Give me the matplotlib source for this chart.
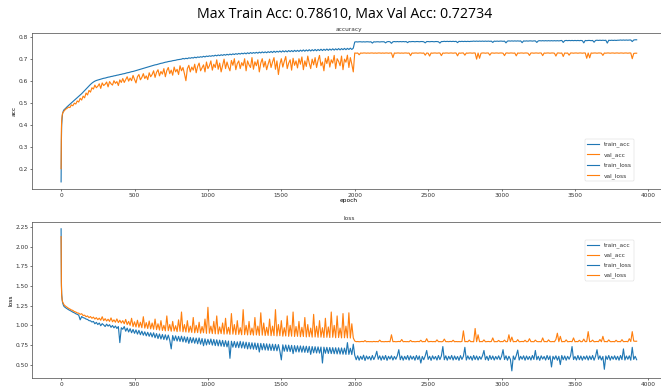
import numpy as np
import matplotlib
matplotlib.use("Agg")
import matplotlib.pyplot as plt
from matplotlib.lines import Line2D

# ---- data ----
epochs_early = [0, 2, 4, 7, 10, 15]
epochs_mid = list(range(20, 2000, 10))      # 20 .. 1990  (198 values)
epochs_late = list(range(2000, 3921, 10))   # 2000 .. 3920 (193 values)
epochs = epochs_early + epochs_mid + epochs_late

train_acc_early = [0.14, 0.33, 0.40, 0.43, 0.45, 0.462]
train_acc_mid = [
    0.468, 0.474, 0.481, 0.487, 0.493, 0.499, 0.505, 0.511, 0.517, 0.523, 0.529, 0.535, 0.541, 0.548, 0.555, 0.562, 0.569, 0.576, 0.583, 0.589,
    0.594, 0.598, 0.601, 0.603, 0.605, 0.607, 0.609, 0.611, 0.612, 0.614, 0.616, 0.617, 0.619, 0.620, 0.622, 0.623, 0.625, 0.626, 0.628, 0.629,
    0.631, 0.632, 0.634, 0.636, 0.637, 0.639, 0.641, 0.642, 0.644, 0.646, 0.648, 0.650, 0.652, 0.654, 0.656, 0.658, 0.660, 0.662, 0.664, 0.666,
    0.668, 0.670, 0.672, 0.673, 0.675, 0.677, 0.679, 0.680, 0.682, 0.684, 0.685, 0.687, 0.688, 0.689, 0.691, 0.692, 0.693, 0.695, 0.696, 0.697,
    0.698, 0.701, 0.699, 0.702, 0.700, 0.704, 0.702, 0.705, 0.703, 0.707, 0.704, 0.708, 0.706, 0.709, 0.707, 0.711, 0.708, 0.712, 0.710, 0.713,
    0.711, 0.714, 0.712, 0.716, 0.713, 0.717, 0.714, 0.718, 0.715, 0.719, 0.716, 0.720, 0.717, 0.721, 0.718, 0.722, 0.719, 0.723, 0.720, 0.724,
    0.721, 0.725, 0.722, 0.726, 0.722, 0.727, 0.723, 0.728, 0.724, 0.728, 0.725, 0.729, 0.725, 0.730, 0.726, 0.731, 0.727, 0.731, 0.727, 0.732,
    0.728, 0.733, 0.728, 0.734, 0.729, 0.734, 0.730, 0.735, 0.730, 0.736, 0.731, 0.736, 0.731, 0.737, 0.732, 0.737, 0.732, 0.738, 0.733, 0.738,
    0.733, 0.739, 0.734, 0.740, 0.734, 0.740, 0.735, 0.741, 0.735, 0.741, 0.736, 0.742, 0.736, 0.742, 0.737, 0.743, 0.737, 0.743, 0.738, 0.744,
    0.738, 0.744, 0.739, 0.745, 0.739, 0.745, 0.740, 0.746, 0.740, 0.746, 0.741, 0.747, 0.741, 0.747, 0.742, 0.748, 0.742, 0.748,
]
train_acc_late = [
    0.776, 0.777, 0.776, 0.777, 0.777, 0.776, 0.777, 0.776, 0.777, 0.777, 0.776, 0.777, 0.771, 0.777, 0.776, 0.777, 0.777, 0.776, 0.777, 0.777,
    0.777, 0.772, 0.777, 0.778, 0.777, 0.770, 0.777, 0.778, 0.777, 0.778, 0.777, 0.778, 0.777, 0.778, 0.777, 0.778, 0.773, 0.778, 0.777, 0.778,
    0.778, 0.777, 0.778, 0.778, 0.777, 0.778, 0.778, 0.777, 0.772, 0.778, 0.778, 0.777, 0.778, 0.778, 0.777, 0.778, 0.778, 0.777, 0.771, 0.778,
    0.778, 0.779, 0.778, 0.779, 0.778, 0.779, 0.778, 0.779, 0.778, 0.779, 0.773, 0.779, 0.778, 0.779, 0.778, 0.779, 0.778, 0.779, 0.778, 0.779,
    0.779, 0.780, 0.779, 0.780, 0.779, 0.780, 0.779, 0.780, 0.779, 0.780, 0.779, 0.780, 0.779, 0.780, 0.774, 0.780, 0.779, 0.780, 0.779, 0.780,
    0.780, 0.779, 0.780, 0.772, 0.780, 0.781, 0.780, 0.781, 0.780, 0.781, 0.780, 0.781, 0.780, 0.781, 0.773, 0.781, 0.780, 0.781, 0.780, 0.781,
    0.781, 0.780, 0.781, 0.781, 0.774, 0.781, 0.782, 0.781, 0.782, 0.781, 0.782, 0.781, 0.782, 0.781, 0.782, 0.781, 0.782, 0.781, 0.782, 0.781,
    0.782, 0.783, 0.774, 0.782, 0.783, 0.782, 0.783, 0.782, 0.783, 0.782, 0.783, 0.782, 0.783, 0.782, 0.783, 0.782, 0.772, 0.783, 0.782, 0.783,
    0.783, 0.782, 0.783, 0.775, 0.783, 0.784, 0.783, 0.784, 0.783, 0.784, 0.783, 0.784, 0.771, 0.784, 0.783, 0.784, 0.783, 0.784, 0.783, 0.784,
    0.784, 0.785, 0.784, 0.785, 0.784, 0.785, 0.784, 0.785, 0.785, 0.778, 0.785, 0.786, 0.786,
]

val_acc_early = [0.20, 0.38, 0.42, 0.44, 0.452, 0.458]
val_acc_mid = [
    0.462, 0.470, 0.474, 0.480, 0.478, 0.490, 0.486, 0.498, 0.494, 0.508, 0.503, 0.520, 0.512, 0.530, 0.522, 0.544, 0.535, 0.556, 0.548, 0.568,
    0.562, 0.580, 0.568, 0.575, 0.586, 0.565, 0.590, 0.578, 0.584, 0.594, 0.572, 0.596, 0.586, 0.580, 0.600, 0.588, 0.596, 0.578, 0.604, 0.592,
    0.610, 0.592, 0.605, 0.618, 0.598, 0.612, 0.600, 0.624, 0.606, 0.590, 0.618, 0.628, 0.604, 0.615, 0.632, 0.610, 0.622, 0.605, 0.636, 0.618,
    0.628, 0.645, 0.615, 0.638, 0.650, 0.622, 0.642, 0.630, 0.655, 0.618, 0.646, 0.660, 0.632, 0.648, 0.625, 0.662, 0.640, 0.652, 0.628, 0.668,
    0.645, 0.660, 0.632, 0.600, 0.655, 0.670, 0.640, 0.662, 0.648, 0.675, 0.636, 0.665, 0.680, 0.645, 0.658, 0.672, 0.640, 0.685, 0.655, 0.668,
    0.690, 0.648, 0.675, 0.660, 0.695, 0.652, 0.680, 0.640, 0.668, 0.698, 0.655, 0.685, 0.662, 0.645, 0.692, 0.670, 0.700, 0.650, 0.678, 0.690,
    0.655, 0.682, 0.668, 0.700, 0.645, 0.690, 0.672, 0.660, 0.705, 0.652, 0.686, 0.668, 0.695, 0.640, 0.680, 0.700, 0.662, 0.688, 0.650, 0.675,
    0.698, 0.660, 0.685, 0.705, 0.652, 0.690, 0.628, 0.675, 0.700, 0.662, 0.688, 0.710, 0.655, 0.680, 0.695, 0.648, 0.702, 0.670, 0.690, 0.658,
    0.700, 0.675, 0.708, 0.650, 0.690, 0.665, 0.712, 0.680, 0.655, 0.698, 0.672, 0.705, 0.660, 0.692, 0.715, 0.668, 0.685, 0.645, 0.702, 0.678,
    0.710, 0.662, 0.695, 0.680, 0.715, 0.655, 0.700, 0.688, 0.668, 0.712, 0.650, 0.698, 0.684, 0.716, 0.660, 0.705, 0.675, 0.640,
]
val_acc_late = [
    0.726, 0.725, 0.726, 0.718, 0.726, 0.725, 0.726, 0.726, 0.725, 0.726, 0.725, 0.726, 0.726, 0.725, 0.726, 0.725, 0.726, 0.726, 0.725, 0.726,
    0.725, 0.726, 0.726, 0.725, 0.726, 0.726, 0.705, 0.726, 0.725, 0.726, 0.726, 0.725, 0.726, 0.725, 0.726, 0.726, 0.725, 0.726, 0.714, 0.726,
    0.725, 0.726, 0.726, 0.725, 0.726, 0.726, 0.725, 0.726, 0.716, 0.726, 0.725, 0.712, 0.726, 0.725, 0.726, 0.726, 0.725, 0.726, 0.726, 0.714,
    0.726, 0.725, 0.726, 0.726, 0.725, 0.726, 0.726, 0.725, 0.726, 0.726, 0.713, 0.726, 0.725, 0.726, 0.726, 0.716, 0.726, 0.725, 0.726, 0.726,
    0.725, 0.726, 0.726, 0.698, 0.726, 0.702, 0.725, 0.726, 0.726, 0.725, 0.726, 0.726, 0.716, 0.726, 0.726, 0.725, 0.726, 0.726, 0.725, 0.726,
    0.726, 0.725, 0.714, 0.726, 0.726, 0.725, 0.726, 0.726, 0.725, 0.726, 0.713, 0.726, 0.725, 0.726, 0.726, 0.725, 0.726, 0.726, 0.725, 0.715,
    0.726, 0.726, 0.725, 0.726, 0.726, 0.725, 0.726, 0.726, 0.714, 0.726, 0.725, 0.726, 0.726, 0.725, 0.726, 0.726, 0.725, 0.712, 0.726, 0.726,
    0.725, 0.726, 0.710, 0.726, 0.725, 0.726, 0.716, 0.726, 0.726, 0.725, 0.726, 0.726, 0.725, 0.726, 0.726, 0.725, 0.726, 0.726, 0.702, 0.726,
    0.704, 0.726, 0.725, 0.726, 0.726, 0.725, 0.726, 0.726, 0.725, 0.715, 0.726, 0.725, 0.726, 0.726, 0.725, 0.726, 0.726, 0.725, 0.726, 0.726,
    0.725, 0.726, 0.726, 0.725, 0.726, 0.726, 0.725, 0.726, 0.726, 0.700, 0.724, 0.725, 0.725,
]

train_loss_early = [2.23, 1.55, 1.40, 1.33, 1.29, 1.26]
train_loss_mid = [
    1.240, 1.225, 1.212, 1.200, 1.190, 1.180, 1.168, 1.160, 1.148, 1.140, 1.130, 1.070, 1.112, 1.098, 1.092, 1.080, 1.075, 1.060, 1.058, 1.042,
    1.050, 1.020, 1.038, 1.010, 1.030, 0.995, 1.022, 1.005, 0.985, 1.015, 0.990, 1.008, 0.975, 0.998, 0.968, 0.992, 0.960, 0.985, 0.780, 0.970,
    0.950, 0.985, 0.925, 0.965, 0.915, 0.958, 0.905, 0.948, 0.898, 0.942, 0.888, 0.936, 0.880, 0.926, 0.874, 0.918, 0.866, 0.912, 0.860, 0.906,
    0.852, 0.905, 0.842, 0.895, 0.832, 0.890, 0.826, 0.884, 0.820, 0.880, 0.814, 0.876, 0.810, 0.700, 0.870, 0.805, 0.866, 0.800, 0.860, 0.795,
    0.862, 0.790, 0.855, 0.784, 0.850, 0.770, 0.846, 0.778, 0.842, 0.772, 0.838, 0.765, 0.840, 0.760, 0.832, 0.740, 0.828, 0.750, 0.822, 0.758,
    0.826, 0.748, 0.820, 0.742, 0.816, 0.738, 0.812, 0.735, 0.808, 0.730, 0.805, 0.726, 0.800, 0.580, 0.798, 0.722, 0.795, 0.718, 0.790, 0.715,
    0.796, 0.712, 0.790, 0.708, 0.786, 0.700, 0.782, 0.700, 0.778, 0.696, 0.776, 0.692, 0.772, 0.660, 0.770, 0.688, 0.768, 0.686, 0.765, 0.682,
    0.762, 0.680, 0.760, 0.678, 0.758, 0.676, 0.755, 0.672, 0.560, 0.752, 0.670, 0.750, 0.668, 0.748, 0.666, 0.745, 0.640, 0.742, 0.662, 0.740,
    0.660, 0.738, 0.658, 0.736, 0.656, 0.734, 0.654, 0.732, 0.630, 0.730, 0.650, 0.728, 0.648, 0.726, 0.646, 0.724, 0.520, 0.722, 0.644, 0.720,
    0.642, 0.718, 0.640, 0.716, 0.638, 0.715, 0.636, 0.714, 0.634, 0.712, 0.632, 0.710, 0.630, 0.780, 0.630, 0.708, 0.628, 0.760,
]
train_loss_late = [
    0.618, 0.562, 0.612, 0.556, 0.606, 0.566, 0.620, 0.552, 0.610, 0.570, 0.604, 0.558, 0.616, 0.564, 0.606, 0.670, 0.568, 0.612, 0.556, 0.610,
    0.564, 0.616, 0.554, 0.606, 0.570, 0.612, 0.558, 0.604, 0.568, 0.614, 0.690, 0.562, 0.610, 0.556, 0.606, 0.566, 0.616, 0.558, 0.612, 0.568,
    0.606, 0.556, 0.616, 0.564, 0.610, 0.520, 0.604, 0.562, 0.612, 0.680, 0.566, 0.606, 0.554, 0.612, 0.570, 0.604, 0.558, 0.616, 0.564, 0.610,
    0.730, 0.562, 0.612, 0.556, 0.606, 0.568, 0.616, 0.558, 0.610, 0.564, 0.604, 0.554, 0.614, 0.566, 0.606, 0.720, 0.558, 0.612, 0.568, 0.606,
    0.556, 0.616, 0.564, 0.610, 0.558, 0.604, 0.568, 0.612, 0.680, 0.562, 0.606, 0.554, 0.616, 0.566, 0.610, 0.558, 0.604, 0.568, 0.612, 0.562,
    0.606, 0.690, 0.564, 0.612, 0.556, 0.606, 0.568, 0.420, 0.610, 0.562, 0.616, 0.685, 0.558, 0.606, 0.568, 0.612, 0.556, 0.610, 0.564, 0.604,
    0.558, 0.616, 0.566, 0.680, 0.562, 0.606, 0.554, 0.612, 0.570, 0.604, 0.558, 0.616, 0.564, 0.610, 0.470, 0.606, 0.568, 0.612, 0.556, 0.606,
    0.500, 0.616, 0.562, 0.610, 0.556, 0.606, 0.568, 0.612, 0.730, 0.564, 0.604, 0.558, 0.616, 0.562, 0.610, 0.556, 0.606, 0.568, 0.612, 0.558,
    0.610, 0.564, 0.616, 0.556, 0.606, 0.690, 0.568, 0.612, 0.558, 0.604, 0.440, 0.610, 0.566, 0.616, 0.556, 0.606, 0.568, 0.612, 0.562, 0.606,
    0.556, 0.616, 0.564, 0.700, 0.558, 0.610, 0.568, 0.612, 0.556, 0.720, 0.566, 0.606, 0.562,
]

val_loss_early = [2.13, 1.50, 1.38, 1.33, 1.30, 1.28]
val_loss_mid = [
    1.262, 1.245, 1.232, 1.218, 1.208, 1.196, 1.190, 1.175, 1.170, 1.158, 1.155, 1.140, 1.148, 1.125, 1.130, 1.110, 1.120, 1.098, 1.112, 1.090,
    1.105, 1.080, 1.098, 1.072, 1.092, 1.065, 1.110, 1.060, 1.085, 1.055, 1.078, 1.050, 1.095, 1.045, 1.070, 1.040, 1.082, 1.035, 1.065, 1.030,
    1.060, 1.020, 1.075, 1.010, 1.050, 1.000, 1.090, 0.985, 1.045, 0.980, 1.065, 0.975, 1.040, 0.970, 1.110, 0.965, 1.035, 0.960, 1.055, 0.955,
    1.030, 0.950, 1.080, 0.945, 1.020, 0.940, 1.060, 0.935, 1.000, 0.930, 1.120, 0.932, 1.010, 0.925, 1.050, 0.928, 0.995, 0.920, 1.070, 0.925,
    1.170, 0.918, 1.010, 0.915, 1.060, 0.912, 0.990, 0.910, 1.100, 0.905, 1.000, 0.908, 1.040, 0.900, 0.985, 0.905, 1.080, 0.898, 1.230, 0.900,
    0.990, 0.895, 1.050, 0.892, 1.120, 0.890, 0.980, 0.895, 1.030, 0.888, 1.090, 0.890, 0.975, 0.885, 1.150, 0.888, 1.010, 0.882, 1.060, 0.885,
    0.970, 0.880, 1.200, 0.882, 1.000, 0.878, 1.050, 0.880, 0.965, 0.875, 1.100, 0.878, 0.990, 0.872, 1.160, 0.875, 1.030, 0.870, 0.975, 0.872,
    1.080, 0.868, 0.990, 0.870, 1.200, 0.865, 1.010, 0.868, 1.060, 0.862, 0.970, 0.865, 1.120, 0.860, 1.000, 0.862, 1.170, 0.858, 0.985, 0.860,
    1.050, 0.855, 0.975, 0.858, 1.100, 0.852, 1.010, 0.855, 0.965, 0.850, 1.140, 0.852, 0.990, 0.848, 1.060, 0.850, 0.970, 0.845, 1.090, 0.848,
    0.980, 0.845, 1.170, 0.848, 1.000, 0.842, 1.120, 0.845, 0.965, 0.840, 1.150, 0.842, 0.990, 0.840, 1.160, 0.838, 1.020, 0.840,
]
val_loss_late = [
    0.800, 0.792, 0.794, 0.791, 0.793, 0.795, 0.792, 0.806, 0.791, 0.794, 0.792, 0.793, 0.791, 0.795, 0.792, 0.794, 0.791, 0.812, 0.792, 0.793,
    0.791, 0.794, 0.792, 0.795, 0.791, 0.880, 0.792, 0.794, 0.791, 0.793, 0.795, 0.792, 0.820, 0.791, 0.794, 0.792, 0.793, 0.791, 0.808, 0.792,
    0.794, 0.791, 0.793, 0.795, 0.792, 0.810, 0.791, 0.794, 0.792, 0.830, 0.791, 0.793, 0.795, 0.792, 0.794, 0.791, 0.815, 0.792, 0.793, 0.791,
    0.794, 0.825, 0.792, 0.793, 0.791, 0.795, 0.792, 0.810, 0.791, 0.794, 0.792, 0.793, 0.791, 0.795, 0.930, 0.792, 0.794, 0.791, 0.812, 0.792,
    0.793, 0.791, 0.960, 0.792, 0.880, 0.791, 0.794, 0.792, 0.815, 0.791, 0.793, 0.795, 0.792, 0.794, 0.840, 0.791, 0.793, 0.792, 0.808, 0.791,
    0.794, 0.792, 0.812, 0.791, 0.793, 0.880, 0.792, 0.850, 0.791, 0.794, 0.792, 0.818, 0.791, 0.793, 0.795, 0.792, 0.810, 0.791, 0.794, 0.830,
    0.792, 0.793, 0.791, 0.812, 0.794, 0.792, 0.793, 0.791, 0.840, 0.792, 0.794, 0.791, 0.815, 0.793, 0.792, 0.794, 0.791, 0.820, 0.900, 0.792,
    0.860, 0.791, 0.794, 0.792, 0.815, 0.791, 0.793, 0.795, 0.792, 0.840, 0.791, 0.794, 0.792, 0.810, 0.791, 0.793, 0.825, 0.792, 0.794, 0.920,
    0.792, 0.794, 0.812, 0.791, 0.793, 0.795, 0.792, 0.820, 0.791, 0.860, 0.792, 0.794, 0.791, 0.815, 0.793, 0.792, 0.794, 0.791, 0.810, 0.792,
    0.794, 0.791, 0.818, 0.792, 0.793, 0.795, 0.791, 0.830, 0.794, 0.920, 0.800, 0.797, 0.798,
]

train_acc = train_acc_early + train_acc_mid + train_acc_late
val_acc = val_acc_early + val_acc_mid + val_acc_late
train_loss = train_loss_early + train_loss_mid + train_loss_late
val_loss = val_loss_early + val_loss_mid + val_loss_late

legend_labels = ["train_acc", "val_acc", "train_loss", "val_loss"]
suptitle_text = "Max Train Acc: 0.78610, Max Val Acc: 0.72734"

for name, s in [("train_acc", train_acc), ("val_acc", val_acc),
                ("train_loss", train_loss), ("val_loss", val_loss)]:
    if len(s) != len(epochs):
        raise ValueError(f"{name}: {len(s)} values vs {len(epochs)} epochs")

# ---- figure ----
DPI = 34
plt.rcParams.update({
    "font.size": 12.5,
    "axes.titlesize": 12.5,
    "axes.labelsize": 12.5,
    "xtick.labelsize": 12.5,
    "ytick.labelsize": 12.5,
    "legend.fontsize": 12.5,
    "axes.linewidth": 1.6,
    "axes.edgecolor": "#555555",
    "xtick.major.width": 1.4,
    "ytick.major.width": 1.4,
    "xtick.major.size": 5,
    "ytick.major.size": 5,
    "text.color": "#333333",
    "xtick.color": "#333333",
    "ytick.color": "#333333",
})
fig = plt.figure(figsize=(661 / DPI, 390 / DPI), dpi=DPI)

ax1 = fig.add_axes([0.0489, 0.5154, 0.9578, 0.4008])
ax2 = fig.add_axes([0.0489, 0.0308, 0.9578, 0.4008])

LW = 2.4
ax1.plot(epochs, train_acc, color="C0", lw=LW)
ax1.plot(epochs, val_acc, color="C1", lw=LW)
ax1.set_title("accuracy", pad=4)
ax1.set_ylabel("acc")
ax1.set_xlabel("epoch", labelpad=1)

ax2.plot(epochs, train_loss, color="C0", lw=LW)
ax2.plot(epochs, val_loss, color="C1", lw=LW)
ax2.set_title("loss", pad=4)
ax2.set_ylabel("loss")

handles = [Line2D([], [], color=c, lw=LW) for c in ["C0", "C1", "C0", "C1"]]
ax1.legend(handles, legend_labels, loc="lower right", bbox_to_anchor=(0.955, 0.03),
           labelspacing=0.8)
ax2.legend(handles, legend_labels, loc="upper right", bbox_to_anchor=(0.955, 0.9),
           labelspacing=0.7)

fig.text(0.522, 0.962, suptitle_text, ha="center", va="center",
         fontsize=30, color="black", family=["Open Sans", "DejaVu Sans"])

fig.savefig("out.png", dpi=DPI)
